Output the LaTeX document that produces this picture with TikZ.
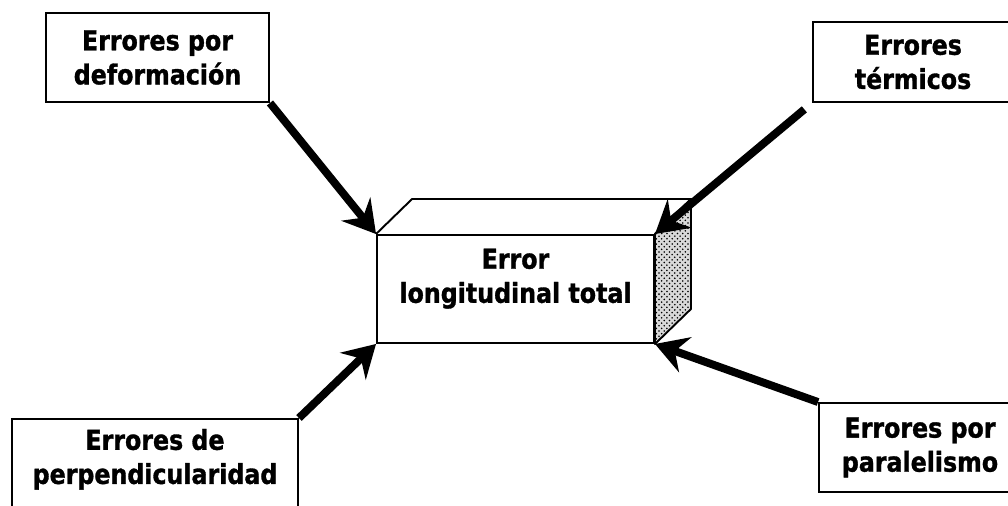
\documentclass[tikz,border=0pt]{standalone}
\usepackage{fontspec}
\setmainfont{DejaVu Sans}[FakeStretch=0.865, BoldFeatures={FakeBold=1.2}]
\usetikzlibrary{calc,arrows.meta,patterns}

% extra depth under the last line, to lift the text inside its box
\newcommand{\padbelow}[1]{\rule[-#1]{0pt}{0pt}}

\begin{document}
\begin{tikzpicture}[
      box/.style={draw, line width=1.1pt, inner sep=2pt, align=center, font=\fontsize{15.6}{19.4}\selectfont\bfseries},
      arr/.style={-{Stealth[length=6.4mm, width=7.4mm, inset=2.2mm]}, line width=4.5pt}
    ]
    \useasboundingbox (0,0) rectangle (20.16,10.1);

    % Central block: front face, then top and shaded side
    \node[box, minimum width=5.54cm, minimum height=2.16cm] (total) at (10.31,4.32) {Error\\longitudinal total\padbelow{0.53cm}};
    \draw[line width=1.1pt, line join=round] (total.north west) -- ++(0.72,0.70) -- ($(total.north east)+(0.72,0.70)$) -- (total.north east);
    \draw[line width=1.1pt, line join=round, fill=gray!30, postaction={pattern=crosshatch dots}] (total.north east) -- ++(0.72,0.70) -- ($(total.south east)+(0.72,0.70)$) -- (total.south east) -- cycle;

    % Sources of error, one in each corner
    \node[box, minimum width=4.46cm, minimum height=1.78cm] (deform) at (3.15,8.95) {Errores por\\deformación};
    \node[box, minimum width=4.0cm, minimum height=1.6cm] (term) at (18.26,8.86) {Errores\\térmicos};
    \node[box, anchor=north, minimum width=5.72cm, inner ysep=0.2cm] (perp) at (3.10,1.74) {Errores de\\perpendicularidad\padbelow{1cm}};
    \node[box, minimum width=4.04cm, minimum height=1.78cm] (paral) at (18.4,1.15) {Errores por\\paralelismo};

    % Arrows into the corners of the block
    \draw[arr] (deform.south east) -- (total.north west);
    \draw[arr, shorten <=0.2cm] (term.south west) -- (total.north east);
    \draw[arr] (perp.north east) -- (total.south west);
    \draw[arr] (paral.north west) -- (total.south east);
  \end{tikzpicture}
\end{document}
